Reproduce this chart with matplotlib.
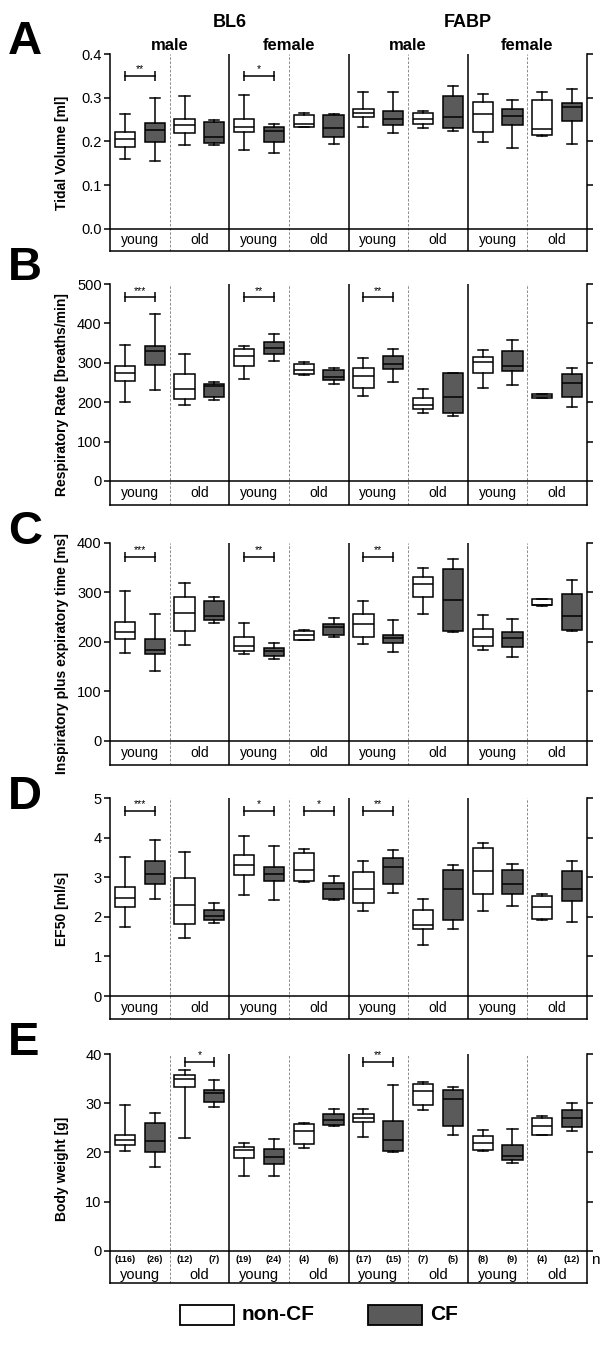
import numpy as np
import matplotlib.pyplot as plt
from matplotlib.patches import Rectangle

# font: Arial-like
plt.rcParams['font.family'] = ['Liberation Sans', 'DejaVu Sans']

# groups: BL6 male / female, FABP male / female, each young + old
ages = ['young', 'old'] * 4
strains = ['BL6', 'FABP']
sexes = ['male', 'female', 'male', 'female']

# n per group
n_noncf = [116, 12, 19, 4, 17, 7, 8, 4]
n_cf = [26, 7, 24, 6, 15, 5, 9, 12]

# box summaries: (whisker low, Q1, median, Q3, whisker high)
tv_noncf = [(0.160, 0.188, 0.206, 0.221, 0.262), (0.192, 0.219, 0.237, 0.252, 0.303),
            (0.181, 0.221, 0.233, 0.252, 0.306), (0.232, 0.232, 0.240, 0.261, 0.266),
            (0.233, 0.255, 0.265, 0.275, 0.314), (0.231, 0.240, 0.251, 0.264, 0.270),
            (0.198, 0.221, 0.262, 0.290, 0.309), (0.213, 0.215, 0.229, 0.294, 0.312)]
tv_cf = [(0.156, 0.198, 0.226, 0.243, 0.300), (0.192, 0.196, 0.211, 0.245, 0.248),
         (0.173, 0.198, 0.225, 0.234, 0.241), (0.195, 0.211, 0.230, 0.260, 0.263),
         (0.219, 0.238, 0.252, 0.269, 0.314), (0.224, 0.230, 0.257, 0.305, 0.327),
         (0.186, 0.238, 0.259, 0.275, 0.295), (0.195, 0.247, 0.278, 0.287, 0.320)]

rr_noncf = [(200, 254, 275, 292, 345), (192, 208, 234, 272, 322),
            (258, 292, 316, 335, 343), (269, 271, 281, 298, 303),
            (215, 235, 266, 288, 311), (173, 182, 192, 210, 234),
            (236, 274, 303, 315, 332), (210, 210, 215, 221, 221)]
rr_cf = [(232, 294, 331, 342, 424), (206, 214, 240, 246, 250),
         (305, 322, 337, 353, 374), (245, 257, 264, 282, 286),
         (250, 283, 296, 316, 335), (165, 173, 213, 273, 273),
         (244, 279, 292, 330, 359), (187, 212, 248, 272, 287)]

ti_noncf = [(177, 207, 220, 240, 303), (193, 223, 259, 290, 319),
            (176, 181, 192, 210, 239), (204, 204, 215, 223, 225),
            (195, 210, 236, 257, 282), (257, 290, 317, 332, 349),
            (184, 192, 210, 226, 255), (272, 275, 275, 287, 287)]
ti_cf = [(142, 176, 183, 206, 257), (239, 244, 253, 283, 291),
         (165, 171, 182, 188, 198), (210, 215, 230, 236, 248),
         (180, 198, 208, 214, 245), (220, 222, 284, 348, 368),
         (170, 189, 209, 220, 247), (222, 224, 252, 297, 326)]

ef_noncf = [(1.75, 2.24, 2.47, 2.76, 3.52), (1.47, 1.82, 2.30, 2.99, 3.64),
            (2.55, 3.05, 3.32, 3.57, 4.05), (2.88, 2.91, 3.18, 3.62, 3.70),
            (2.15, 2.36, 2.70, 3.14, 3.41), (1.30, 1.69, 1.80, 2.18, 2.45),
            (2.14, 2.58, 3.16, 3.73, 3.87), (1.92, 1.95, 2.25, 2.53, 2.58)]
ef_cf = [(2.46, 2.83, 3.09, 3.40, 3.93), (1.85, 1.92, 2.03, 2.16, 2.36),
         (2.43, 2.90, 3.07, 3.26, 3.78), (2.43, 2.45, 2.69, 2.85, 3.02),
         (2.61, 2.82, 3.27, 3.48, 3.69), (1.70, 1.91, 2.69, 3.19, 3.31),
         (2.28, 2.58, 2.82, 3.17, 3.33), (1.87, 2.40, 2.69, 3.15, 3.41)]

bw_noncf = [(20.3, 21.6, 22.5, 23.6, 29.7), (23.0, 33.4, 35.0, 35.8, 36.7),
            (15.2, 18.9, 20.5, 21.1, 22.0), (20.9, 21.7, 24.4, 25.7, 26.0),
            (23.2, 26.1, 27.1, 27.8, 28.8), (28.6, 29.7, 32.5, 33.9, 34.3),
            (20.3, 20.6, 21.9, 23.4, 24.6), (23.5, 23.6, 25.3, 27.1, 27.5)]
bw_cf = [(17.0, 20.0, 22.3, 25.9, 28.1), (29.2, 30.3, 32.0, 32.6, 34.7),
         (15.2, 17.6, 19.1, 20.8, 22.7), (25.4, 25.5, 26.6, 27.9, 28.9),
         (20.1, 20.3, 22.5, 26.3, 33.8), (23.6, 25.3, 30.8, 32.6, 33.4),
         (17.9, 18.4, 19.2, 21.5, 24.8), (24.3, 25.2, 27.0, 28.6, 30.0)]

# significance: group index, stars
tv_sig = [(0, '**'), (2, '*')]
rr_sig = [(0, '***'), (2, '**'), (4, '**')]
ti_sig = [(0, '***'), (2, '**'), (4, '**')]
ef_sig = [(0, '***'), (2, '*'), (3, '*'), (4, '**')]
bw_sig = [(1, '*'), (4, '**')]

# (letter, ylabel, noncf, cf, yticks, ylow, sig, sig_y, px top, px bottom)
panels = [
    ('A', 'Tidal Volume [ml]', tv_noncf, tv_cf, [0, 0.1, 0.2, 0.3, 0.4], -0.0503, tv_sig, 0.35, 54, 251),
    ('B', 'Respiratory Rate [breaths/min]', rr_noncf, rr_cf, [0, 100, 200, 300, 400, 500], -61, rr_sig, 467, 284, 505),
    ('C', 'Inspiratory plus expiratory time [ms]', ti_noncf, ti_cf, [0, 100, 200, 300, 400], -48.5, ti_sig, 372, 543, 765),
    ('D', 'EF50 [ml/s]', ef_noncf, ef_cf, [0, 1, 2, 3, 4, 5], -0.58, ef_sig, 4.68, 798, 1019),
    ('E', 'Body weight [g]', bw_noncf, bw_cf, [0, 10, 20, 30, 40], -6.5, bw_sig, 38.4, 1054, 1283),
]
letter_y = [42, 268, 532, 797, 1043]

W, H = 600, 1353
fig = plt.figure(figsize=(6, 13.53), dpi=100)
dark = '#5a5a5a'

for k, (letter, ylab, noncf, cf, yt, ylow, sig, sig_y, top, bot) in enumerate(panels):
    ax = fig.add_axes([110 / W, 1 - bot / H, 477 / W, (bot - top) / H])
    ymax = yt[-1]
    ax.set_xlim(0, 8)
    ax.set_ylim(ylow, ymax)

    for data, off, fc in [(noncf, 0.25, 'white'), (cf, 0.75, dark)]:
        stats = [dict(whislo=d[0], q1=d[1], med=d[2], q3=d[3], whishi=d[4], fliers=[]) for d in data]
        ax.bxp(stats, positions=np.arange(8) + off, widths=0.34, capwidths=0.17,
               patch_artist=True, showfliers=False, manage_ticks=False,
               boxprops=dict(facecolor=fc, edgecolor='k', linewidth=1.1),
               medianprops=dict(color='k', linewidth=1.1),
               whiskerprops=dict(color='k', linewidth=1.1),
               capprops=dict(color='k', linewidth=1.1))

    # section separators
    for i in range(1, 8):
        if i % 2 == 0:
            ax.axvline(i, color='k', lw=1.1)
        else:
            ax.axvline(i, color='#777777', lw=0.6, ls=(0, (3, 2)))
    ax.axhline(0, color='k', lw=1.1)

    # significance brackets
    for i, s in sig:
        ax.plot([i + 0.25, i + 0.75], [sig_y, sig_y], color='k', lw=1.1,
                marker='|', markersize=7, mew=1.1)
        ax.annotate(s, (i + 0.5, sig_y), xytext=(0, 1), textcoords='offset points',
                    ha='center', va='bottom', fontsize=7.5)

    # category row
    for i in range(8):
        if letter == 'E':
            ax.text(i + 0.25, ylow * 0.28, '(%d)' % n_noncf[i], ha='center', va='center',
                    fontsize=6.5, fontweight='bold')
            ax.text(i + 0.75, ylow * 0.28, '(%d)' % n_cf[i], ha='center', va='center',
                    fontsize=6.5, fontweight='bold')
            ax.text(i + 0.5, ylow * 0.74, ages[i], ha='center', va='center', fontsize=10.5)
        else:
            ax.text(i + 0.5, ylow / 2, ages[i], ha='center', va='center', fontsize=10)
    if letter == 'E':
        ax.text(8.07, ylow * 0.28, 'n', ha='left', va='center', fontsize=11)

    ax.set_yticks(yt)
    if letter == 'A':
        ax.set_yticklabels(['%.1f' % v for v in yt])
    ax.set_xticks([])
    ax.tick_params(axis='y', direction='out', length=4, width=1.1, right=True,
                   labelsize=10.5, pad=2)
    ax.spines['top'].set_visible(False)
    for sp in ['left', 'right', 'bottom']:
        ax.spines[sp].set_linewidth(1.1)
    ax.set_ylabel(ylab, fontsize=10, fontweight='bold')
    ax.yaxis.set_label_coords(-0.085, 0.5)

    # headers on top panel
    if letter == 'A':
        for j, st in enumerate(strains):
            ax.text(2 + 4 * j, ymax * 1.178, st, ha='center', va='center',
                    fontsize=13, fontweight='bold')
        for j, sx in enumerate(sexes):
            ax.text(1 + 2 * j, ymax * 1.005, sx, ha='center', va='bottom',
                    fontsize=12, fontweight='bold')

    fig.text(0.013, 1 - letter_y[k] / H, letter, fontsize=34, fontweight='bold',
             ha='left', va='center')

# legend
for x0, fc, lab in [(180, 'white', 'non-CF'), (368, dark, 'CF')]:
    fig.patches.append(Rectangle((x0 / W, 1 - 1325 / H), 54 / W, 20 / H, facecolor=fc,
                                 edgecolor='k', lw=1.3, transform=fig.transFigure))
    fig.text((x0 + 62) / W, 1 - 1315 / H, lab, fontsize=15, fontweight='bold',
             ha='left', va='center')

fig.savefig('out.png', dpi=100)
